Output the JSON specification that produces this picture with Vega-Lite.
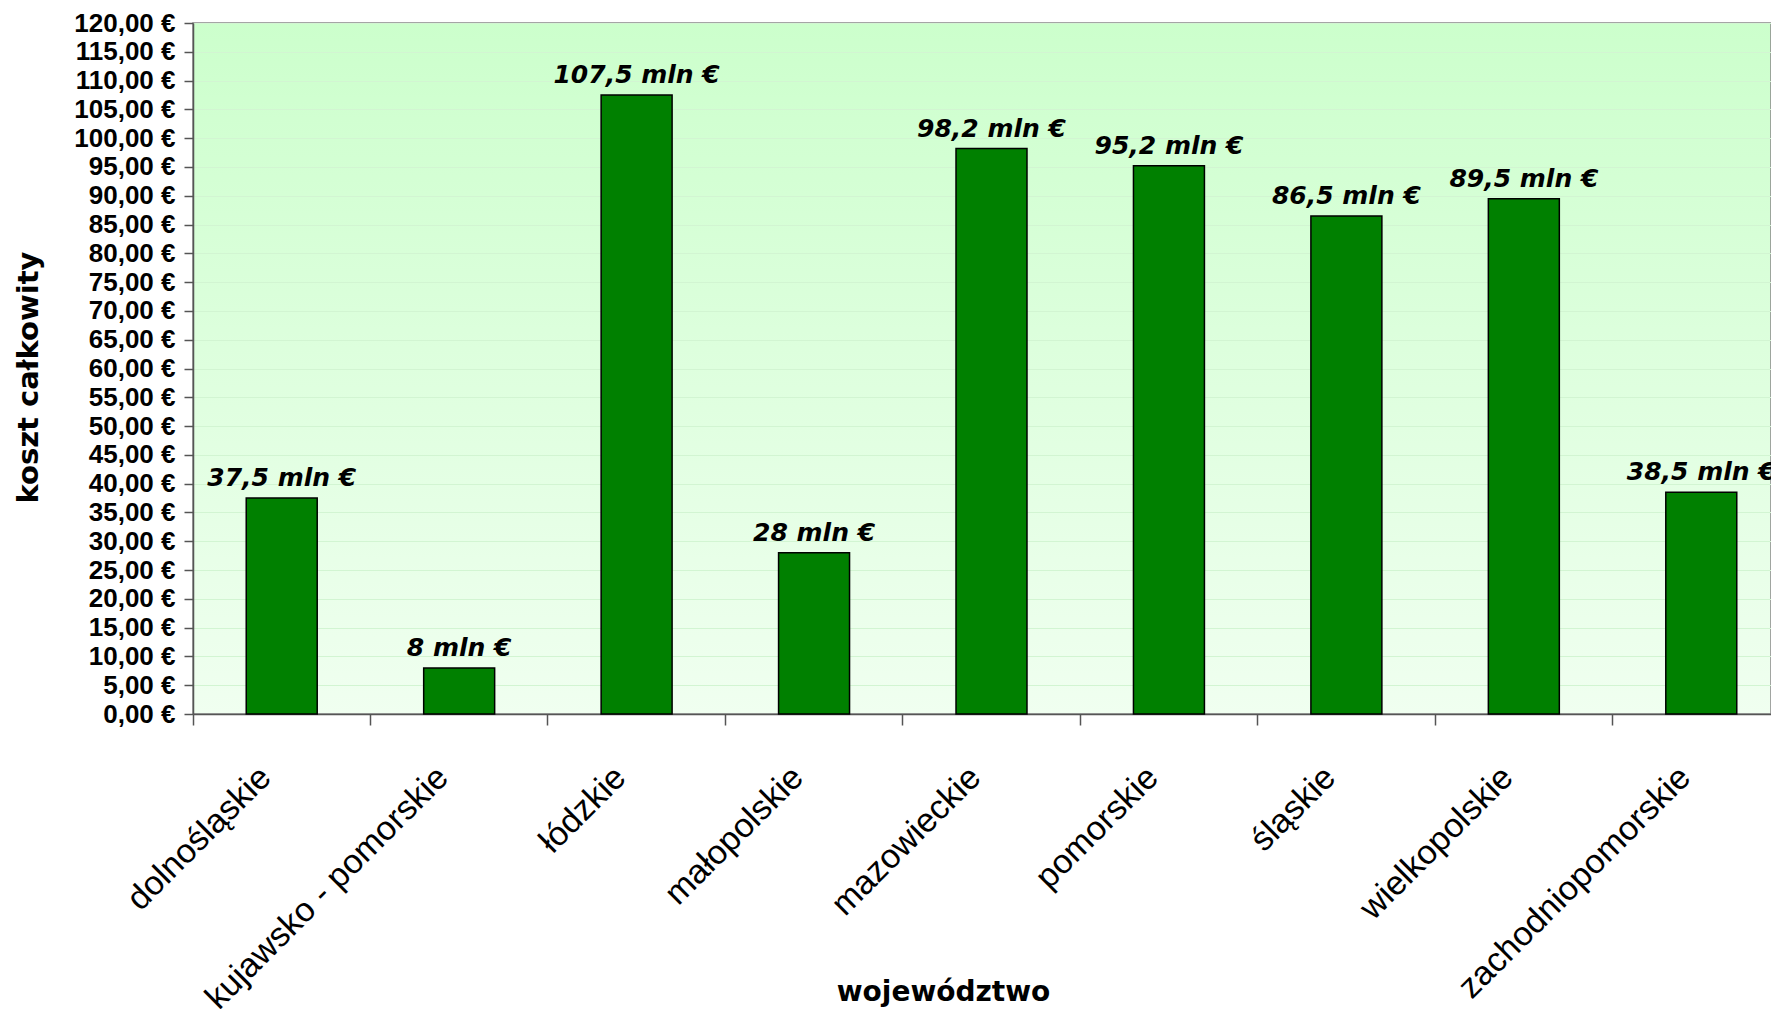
{
  "$schema": "https://vega.github.io/schema/vega-lite/v6.json",
  "autosize": {"type": "none"},
  "padding": {"left": 193, "top": 23, "right": 0, "bottom": 295},
  "width": 1578,
  "height": 691,
  "background": "white",
  "data": {
    "values": [
      {"wojewodztwo": "dolnośląskie", "koszt": 37.5, "etykieta": "37,5 mln €"},
      {"wojewodztwo": "kujawsko - pomorskie", "koszt": 8, "etykieta": "8 mln €"},
      {"wojewodztwo": "łódzkie", "koszt": 107.5, "etykieta": "107,5 mln €"},
      {"wojewodztwo": "małopolskie", "koszt": 28, "etykieta": "28 mln €"},
      {"wojewodztwo": "mazowieckie", "koszt": 98.2, "etykieta": "98,2 mln €"},
      {"wojewodztwo": "pomorskie", "koszt": 95.2, "etykieta": "95,2 mln €"},
      {"wojewodztwo": "śląskie", "koszt": 86.5, "etykieta": "86,5 mln €"},
      {"wojewodztwo": "wielkopolskie", "koszt": 89.5, "etykieta": "89,5 mln €"},
      {"wojewodztwo": "zachodniopomorskie", "koszt": 38.5, "etykieta": "38,5 mln €"}
    ]
  },
  "encoding": {
    "x": {
      "field": "wojewodztwo",
      "type": "nominal",
      "sort": null,
      "scale": {"range": [0, 1597], "paddingInner": 0, "paddingOuter": 0},
      "axis": {
        "title": "województwo",
        "bandPosition": 0,
        "labelAngle": -45,
        "labelAlign": "right",
        "labelBaseline": "middle",
        "labelFont": "Liberation Sans",
        "labelFontSize": 34,
        "labelColor": "#000000",
        "labelPadding": 47,
        "labelOffset": -16,
        "labelOverlap": false,
        "labelBound": false,
        "labelLimit": 0,
        "tickSize": 11,
        "tickColor": "#555555",
        "tickWidth": 1.5,
        "domainColor": "#555555",
        "domainWidth": 1.5,
        "grid": false,
        "titleFont": "DejaVu Sans",
        "titleFontWeight": "bold",
        "titleFontSize": 28,
        "titleColor": "#000000",
        "titleX": 750,
        "titleY": 286,
        "titleBaseline": "alphabetic",
        "titleAlign": "center"
      }
    },
    "y": {
      "field": "koszt",
      "type": "quantitative",
      "scale": {"domain": [0, 120], "nice": false},
      "axis": {
        "title": "koszt całkowity",
        "values": [0, 5, 10, 15, 20, 25, 30, 35, 40, 45, 50, 55, 60, 65, 70, 75, 80, 85, 90, 95, 100, 105, 110, 115, 120],
        "labelExpr": "replace(format(datum.value, '.2f'), '.', ',') + ' €'",
        "labelFont": "Liberation Sans",
        "labelFontWeight": "bold",
        "labelFontSize": 26,
        "labelColor": "#000000",
        "labelPadding": 9,
        "labelOverlap": false,
        "tickSize": 9,
        "tickColor": "#555555",
        "tickWidth": 1.5,
        "domainColor": "#555555",
        "domainWidth": 1.5,
        "grid": true,
        "gridColor": "#D2F5D2",
        "gridWidth": 1,
        "titleFont": "DejaVu Sans",
        "titleFontWeight": "bold",
        "titleFontSize": 29,
        "titleColor": "#000000",
        "titleAngle": -90,
        "titleX": -156,
        "titleY": 354,
        "titleBaseline": "alphabetic",
        "titleAlign": "center"
      }
    }
  },
  "layer": [
    {
      "mark": {"type": "bar", "width": {"band": 0.4}, "fill": "#008000", "stroke": "#000000", "strokeWidth": 1.5}
    },
    {
      "mark": {"type": "text", "font": "DejaVu Sans", "fontStyle": "italic", "fontWeight": "bold", "fontSize": 25, "baseline": "alphabetic", "align": "center", "dy": -12, "color": "#000000"},
      "encoding": {"text": {"field": "etykieta", "type": "nominal"}}
    }
  ],
  "config": {
    "view": {
      "fill": {"gradient": "linear", "x1": 0, "y1": 0, "x2": 0, "y2": 1, "stops": [{"offset": 0, "color": "#CCFFCC"}, {"offset": 1, "color": "#F0FFF0"}]},
      "stroke": "#888888",
      "strokeWidth": 1.5
    }
  }
}
